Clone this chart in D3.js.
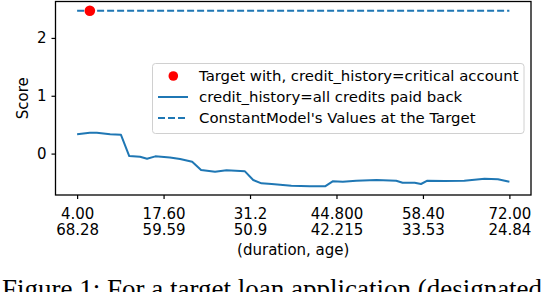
<!DOCTYPE html>
<html>
<head>
<meta charset="utf-8">
<script src="https://cdn.jsdelivr.net/npm/d3@7"></script>
<style>
  html, body { margin: 0; padding: 0; background: #fff; }
  svg { display: block; }
</style>
</head>
<body>
<svg id="chart" width="548" height="292"></svg>
<script>
// Data
const durations = [4.0, 6.0, 7.1, 9.2, 10.9, 12.2, 13.9, 15.0, 16.3, 18.6, 20.2, 22.1, 23.5, 25.7, 27.5, 30.4, 31.7, 33.0, 34.6, 37.7, 40.6, 43.0, 44.2, 45.8, 47.9, 51.1, 54.2, 55.2, 57.1, 58.1, 59.1, 61.8, 64.9, 68.1, 70.2, 72.0];
const scores = [0.336, 0.359, 0.359, 0.336, 0.324, -0.043, -0.055, -0.090, -0.048, -0.066, -0.095, -0.141, -0.284, -0.314, -0.290, -0.307, -0.457, -0.514, -0.526, -0.555, -0.566, -0.566, -0.479, -0.486, -0.469, -0.457, -0.469, -0.503, -0.503, -0.526, -0.469, -0.474, -0.469, -0.434, -0.445, -0.486];
const constantValue = [2.47];
const targetPoint = [6.0, 2.47];
const xTickValues = [4.0, 17.6, 31.2, 44.8, 58.4, 72.0];
const xTickDuration = ["4.00", "17.60", "31.2", "44.800", "58.40", "72.00"];
const xTickAge = ["68.28", "59.59", "50.9", "42.215", "33.53", "24.84"];
const yTickValues = [0, 1, 2];
const legendLabels = [
  "Target with, credit_history=critical account",
  "credit_history=all credits paid back",
  "ConstantModel's Values at the Target"
];
const captionText = "Figure 1: For a target loan application (designated";

const svg = d3.select("#chart");
const mLeft = 55.5, mRight = 531, mTop = 1.5, mBottom = 195;
const blue = "#1f77b4";
const font = "DejaVu Sans, sans-serif";

const x = d3.scaleLinear().domain([0.6, 75.4]).range([mLeft, mRight]);
const y = d3.scaleLinear().domain([-0.716, 2.63]).range([mBottom, mTop]);

// constant dashed line
svg.append("line")
  .attr("x1", x(4)).attr("x2", x(72))
  .attr("y1", y(constantValue[0])).attr("y2", y(constantValue[0]))
  .attr("stroke", blue).attr("stroke-width", 2)
  .attr("stroke-dasharray", "7,3");

// blue line
const lineGen = d3.line().x((d, i) => x(durations[i])).y(d => y(d)).curve(d3.curveLinear);
svg.append("path").datum(scores)
  .attr("d", lineGen)
  .attr("fill", "none").attr("stroke", blue).attr("stroke-width", 2)
  .attr("stroke-linejoin", "round");

// target point
svg.append("circle")
  .attr("cx", x(targetPoint[0])).attr("cy", y(targetPoint[1]))
  .attr("r", 5.3).attr("fill", "red");

// spines
svg.append("rect")
  .attr("x", mLeft).attr("y", mTop)
  .attr("width", mRight - mLeft).attr("height", mBottom - mTop)
  .attr("fill", "none").attr("stroke", "#000").attr("stroke-width", 1.3);

// y axis
const yAxis = d3.axisLeft(y).tickValues(yTickValues).tickFormat(d3.format("d")).tickSizeOuter(0).tickSize(4).tickPadding(5);
const gy = svg.append("g").attr("transform", `translate(${mLeft},0)`).call(yAxis);
gy.select(".domain").remove();
gy.selectAll(".tick line").attr("stroke", "#000").attr("stroke-width", 1.2);
gy.selectAll(".tick text").attr("font-family", font).attr("font-size", 15).attr("fill", "#000");

// x axis
const xAxis = d3.axisBottom(x).tickValues(xTickValues).tickFormat("").tickSizeOuter(0).tickSize(4);
const gx = svg.append("g").attr("transform", `translate(0,${mBottom})`).call(xAxis);
gx.select(".domain").remove();
gx.selectAll(".tick line").attr("stroke", "#000").attr("stroke-width", 1.2);
gx.selectAll(".tick").each(function(d, i) {
  const t = d3.select(this).append("text")
    .attr("font-family", font).attr("font-size", 15).attr("fill", "#000")
    .attr("text-anchor", "middle");
  t.append("tspan").attr("x", 0).attr("y", 23.5).text(xTickDuration[i]);
  t.append("tspan").attr("x", 0).attr("y", 40).text(xTickAge[i]);
});

// axis labels
svg.append("text")
  .attr("x", (mLeft + mRight) / 2).attr("y", 254.5)
  .attr("text-anchor", "middle")
  .attr("font-family", font).attr("font-size", 15)
  .text("(duration, age)");
svg.append("text")
  .attr("transform", `translate(27.5,${(mTop + mBottom) / 2}) rotate(-90)`)
  .attr("text-anchor", "middle")
  .attr("font-family", font).attr("font-size", 15)
  .text("Score");

// legend
const lg = svg.append("g");
lg.append("rect")
  .attr("x", 152.5).attr("y", 63.5).attr("width", 371.5).attr("height", 70)
  .attr("rx", 3).attr("fill", "#fff").attr("fill-opacity", 0.8)
  .attr("stroke", "#d0d0d0").attr("stroke-width", 1);
const rowY = [76, 97, 118];
lg.append("circle").attr("cx", 173.3).attr("cy", rowY[0]).attr("r", 4.8).attr("fill", "red");
lg.append("line").attr("x1", 158).attr("x2", 188).attr("y1", rowY[1]).attr("y2", rowY[1])
  .attr("stroke", blue).attr("stroke-width", 2);
lg.append("line").attr("x1", 158).attr("x2", 188).attr("y1", rowY[2]).attr("y2", rowY[2])
  .attr("stroke", blue).attr("stroke-width", 2).attr("stroke-dasharray", "7,3");
legendLabels.forEach((s, i) => {
  lg.append("text").attr("x", 199).attr("y", rowY[i]).attr("dy", "0.35em")
    .attr("font-family", font).attr("font-size", 14.9).attr("fill", "#000").text(s);
});

// caption (partially cut off at the bottom edge, as in the reference)
svg.append("text")
  .attr("x", 2).attr("y", 298)
  .attr("font-family", "Liberation Serif, Times New Roman, serif").attr("font-size", 27)
  .attr("fill", "#000")
  .text(captionText);
</script>
</body>
</html>
